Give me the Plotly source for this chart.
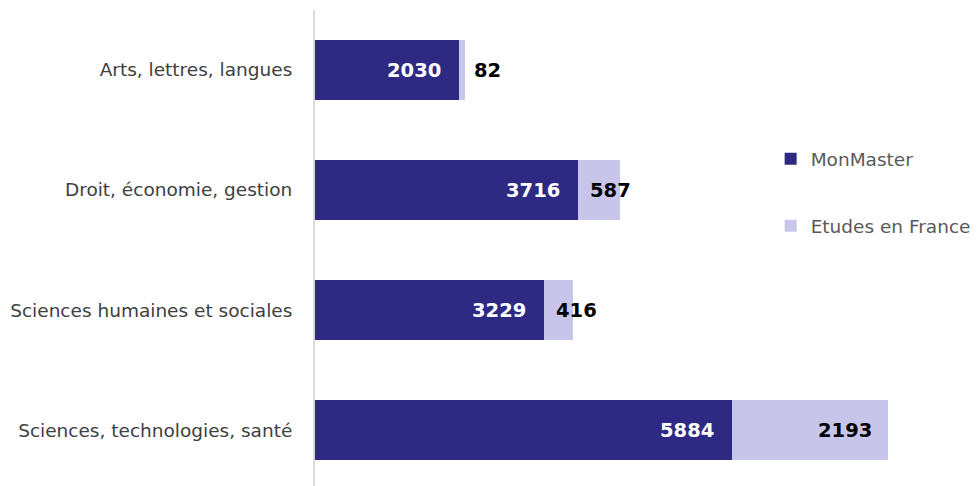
import plotly.graph_objects as go

categories = ["Sciences, technologies, santé", "Sciences humaines et sociales",
              "Droit, économie, gestion", "Arts, lettres, langues"]
monmaster = [5884, 3229, 3716, 2030]
etudes_france = [2193, 416, 587, 82]
series_names = ["MonMaster", "Etudes en France"]

DARK = "#2E2A84"
LIGHT = "#C8C5EB"
FONT = "DejaVu Sans"

fig = go.Figure()
fig.add_trace(go.Bar(y=categories, x=monmaster, name=series_names[0], orientation="h",
                     marker=dict(color=DARK, line=dict(width=0)), legendgroup="a"))
fig.add_trace(go.Bar(y=categories, x=etudes_france, name=series_names[1], orientation="h",
                     marker=dict(color=LIGHT, line=dict(width=0)), legendgroup="b"))

annotations = []
for c, m, e in zip(categories, monmaster, etudes_france):
    annotations.append(dict(x=m, y=c, text=f"<b>{m}</b>", showarrow=False,
                            xanchor="right", xshift=-16,
                            font=dict(family=FONT, size=19.5, color="white")))
    if e > 1000:
        annotations.append(dict(x=m + e, y=c, text=f"<b>{e}</b>", showarrow=False,
                                xanchor="right", xshift=-14,
                                font=dict(family=FONT, size=19.5, color="black")))
    else:
        annotations.append(dict(x=m, y=c, text=f"<b>{e}</b>", showarrow=False,
                                xanchor="left", xshift=10 if e > 100 else 13,
                                font=dict(family=FONT, size=19.5, color="black")))

fig.update_layout(
    width=979, height=486,
    margin=dict(l=307, r=87, t=2, b=0, autoexpand=False),
    barmode="stack", bargap=0.5,
    plot_bgcolor="white", paper_bgcolor="white",
    font=dict(family=FONT, size=18.5, color="#404040"),
    xaxis=dict(visible=False, range=[0, 8251], automargin=False),
    yaxis=dict(categoryorder="array", categoryarray=categories, range=[-0.533, 3.5],
               showline=True, linecolor="#D9D9D9", linewidth=2, ticks="",
               ticklabelstandoff=17, showgrid=False, automargin=False,
               tickfont=dict(family=FONT, size=18.5, color="#404040")),
    legend=dict(x=0.779, y=0.728, xref="container", yref="container",
                xanchor="left", yanchor="top", tracegroupgap=40,
                font=dict(family=FONT, size=18.5, color="#595959"),
                bgcolor="rgba(0,0,0,0)"),
    annotations=annotations,
    showlegend=True,
)

fig.write_html("out.html")
